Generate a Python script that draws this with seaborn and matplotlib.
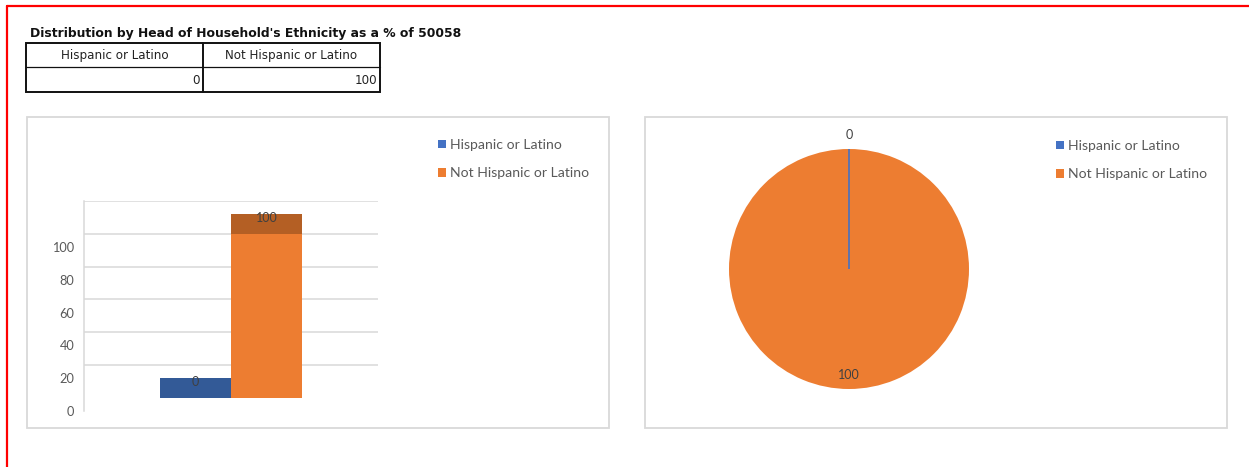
import matplotlib
matplotlib.use("Agg")
import matplotlib.pyplot as plt
from matplotlib.patches import Patch, Rectangle
from matplotlib.lines import Line2D
import numpy as np
import pandas as pd
import seaborn as sns

# ---- data ----
title = "Distribution by Head of Household's Ethnicity as a % of 50058"
categories = ["Hispanic or Latino", "Not Hispanic or Latino"]
values = [0, 100]
tick_values = [0, 20, 40, 60, 80, 100]

front_colors = ["#2F5597", "#ED7D31"]
top_colors = ["#335A97", "#B45F24"]
legend_colors = ["#4472C4", "#ED7D31"]

sns.set_theme(style="white")
plt.rcParams["font.family"] = ["Lato", "DejaVu Sans"]

W, H = 1249, 467
fig = plt.figure(figsize=(W / 100, H / 100), dpi=100)


def fx(px):
    return px / W


def fy(py):
    return 1 - py / H


# ---- page frame (red rule on top and left) ----
fig.add_artist(Line2D([fx(7), 1.0], [fy(6), fy(6)], color="#FF0000", lw=1.6,
                      transform=fig.transFigure))
fig.add_artist(Line2D([fx(7), fx(7)], [fy(6), 0.0], color="#FF0000", lw=1.6,
                      transform=fig.transFigure))

# ---- heading ----
fig.text(fx(30), fy(33), title, fontsize=8.9, fontweight="bold",
         family="DejaVu Sans", color="#111111", va="center", ha="left")

# ---- summary table ----
tx0, tx1, txm = 26, 380, 203
ty0, ty1, tym = 43, 92, 67
fig.add_artist(Rectangle((fx(tx0), fy(ty1)), fx(tx1) - fx(tx0), fy(ty0) - fy(ty1),
                         fill=False, edgecolor="#111111", lw=1.4,
                         transform=fig.transFigure))
fig.add_artist(Line2D([fx(txm), fx(txm)], [fy(ty0), fy(ty1)], color="#111111",
                      lw=1.4, transform=fig.transFigure))
fig.add_artist(Line2D([fx(tx0), fx(tx1)], [fy(tym), fy(tym)], color="#111111",
                      lw=0.9, transform=fig.transFigure))
col_centers = [(tx0 + txm) / 2, (txm + tx1) / 2]
col_rights = [txm - 3, tx1 - 3]
for cat, val, cx, rx in zip(categories, values, col_centers, col_rights):
    fig.text(fx(cx), fy(56), cat, fontsize=8.6, family="DejaVu Sans",
             color="#222222", ha="center", va="center")
    fig.text(fx(rx), fy(80), f"{val}", fontsize=8.6, family="DejaVu Sans",
             color="#222222", ha="right", va="center")

# ---- chart panels ----
for x0, x1 in [(27, 609), (645, 1227)]:
    fig.add_artist(Rectangle((fx(x0), fy(428)), fx(x1) - fx(x0), fy(117) - fy(428),
                             fill=False, edgecolor="#D9D9D9", lw=1.3,
                             transform=fig.transFigure))

# ---- column chart (pseudo 3-D: back wall raised by `depth`) ----
depth = 8        # offset of the back wall above the tick labels
cap = 12         # thickness of the bar top face
ax = fig.add_axes([fx(84), fy(411), fx(378) - fx(84), fy(201) - fy(411)])
df = pd.DataFrame({"group": [""] * len(values), "category": categories,
                   "value": values})
sns.barplot(data=df, x="group", y="value", hue="category",
            hue_order=categories, palette=front_colors, saturation=1,
            width=0.483, legend=False, linewidth=0, ax=ax)

bars = list(ax.patches)
for bar, val, tc in zip(bars, values, top_colors):
    ax.bar(bar.get_x(), cap, bar.get_width(), bottom=val, align="edge",
           color=tc, linewidth=0, zorder=3)
    ax.text(bar.get_x() + bar.get_width() / 2, val + cap * 0.8, f"{val}",
            ha="center", va="center", fontsize=9.0, color="#404040", zorder=4)

ax.set_ylim(-depth, 120)
ax.set_xlim(-0.5, 0.5)
ax.set_yticks([t - depth for t in tick_values])
ax.set_yticklabels([str(t) for t in tick_values])
ax.set_yticks([t + 20 for t in tick_values], minor=True)
ax.grid(False)
ax.grid(True, which="minor", axis="y", color="#D9D9D9", lw=1.1)
ax.set_axisbelow(True)
ax.tick_params(axis="y", which="both", length=0, pad=7, labelsize=9.2,
               labelcolor="#595959")
ax.set_xticks([])
ax.set_xlabel("")
ax.set_ylabel("")
for side in ["top", "right", "bottom"]:
    ax.spines[side].set_visible(False)
ax.spines["left"].set_color("#D9D9D9")
ax.spines["left"].set_linewidth(1.1)
ax.patch.set_alpha(0)


def add_legend(x_px, y_px):
    handles = [Patch(facecolor=c, edgecolor="none", label=l)
               for c, l in zip(legend_colors, categories)]
    fig.legend(handles=handles, loc="upper left",
               bbox_to_anchor=(fx(x_px), fy(y_px)), frameon=False,
               fontsize=10.1, labelcolor="#595959", handlelength=0.58,
               handleheight=0.58, handletextpad=0.3, labelspacing=1.16,
               borderpad=0, borderaxespad=0)


add_legend(438, 139)

# ---- pie chart ----
r_px = 120
pax = fig.add_axes([fx(849 - r_px), fy(269 + r_px), fx(2 * r_px), fy(0) - fy(2 * r_px)])
wedges, _ = pax.pie(values, colors=legend_colors, startangle=90,
                    counterclock=False, radius=1.0,
                    wedgeprops=dict(linewidth=0))
wedges[0].set_edgecolor(legend_colors[0])
wedges[0].set_linewidth(1.2)
wedges[0].set_zorder(5)
for w, val in zip(wedges, values):
    mid = np.deg2rad((w.theta1 + w.theta2) / 2)
    rr = 1.12 if val == 0 else 0.88
    pax.text(rr * np.cos(mid), rr * np.sin(mid), f"{val}", ha="center",
             va="center", fontsize=9.0, color="#404040", clip_on=False)
pax.set_xlim(-1, 1)
pax.set_ylim(-1, 1)
pax.set_aspect("auto")
pax.axis("off")

add_legend(1056, 140)

fig.savefig("out.png", dpi=100, facecolor="white")
